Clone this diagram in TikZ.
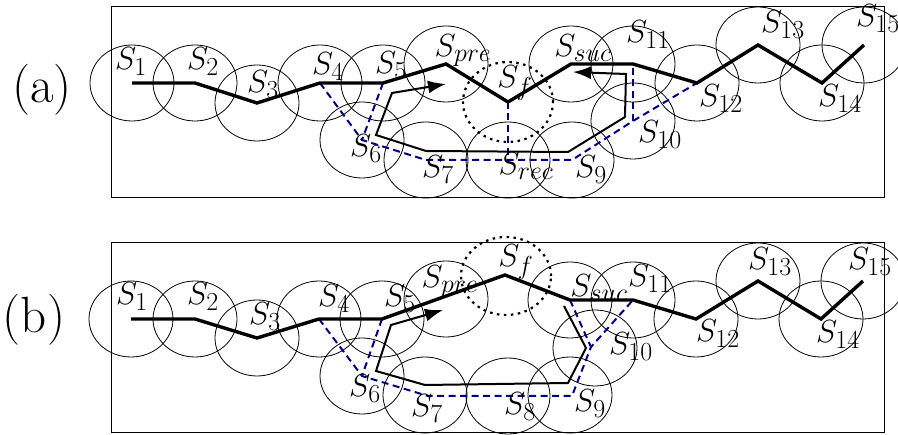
\RequirePackage{fix-cm}
\documentclass[tikz,border=0pt]{standalone}
\usepackage{amssymb}
\usetikzlibrary{arrows.meta, calc}
\definecolor{navy}{RGB}{0,0,135}
\DeclareMathSizes{32}{32}{26}{20}

\begin{document}
\begin{tikzpicture}[x=1pt, y=-1pt,
  zone/.style={line width=0.8pt},
  failzone/.style={line width=2.2pt, dash pattern=on 2.5pt off 4.5pt},
  mainpath/.style={line width=3.4pt, line join=miter},
  altpath/.style={navy, line width=2pt, dash pattern=on 7pt off 4.5pt},
  bypass/.style={line width=2pt, line join=miter, arrows={-Latex[length=18pt, width=13pt]}},
  lab/.style={anchor=base, inner sep=0pt, font=\fontsize{32}{38}\selectfont},
  tag/.style={anchor=base, inner sep=0pt, font=\fontsize{51}{60}\selectfont}]
\useasboundingbox (0,0) rectangle (898,435);

\draw[line width=1pt] (111,7) rectangle (884,198);
\draw[line width=1pt] (111,243) rectangle (884,433);
\node[tag] (taga) at (42,103) {(a)};
\node[tag] (tagb) at (34,333) {(b)};

\coordinate (a1) at (132,83);
\coordinate (a2) at (195,83);
\coordinate (a3) at (257,103);
\coordinate (a4) at (320,83);
\coordinate (a5) at (383,83);
\coordinate (apre) at (446,64);
\coordinate (af) at (508,102);
\coordinate (asuc) at (571,64);
\coordinate (a11) at (633,64);
\coordinate (a12) at (697,83);
\coordinate (a13) at (758,45);
\coordinate (a14) at (822,83);
\coordinate (a15) at (864,45);
\coordinate (a6) at (362,140);
\coordinate (a7) at (426,160);
\coordinate (arec) at (508,160);
\coordinate (a9) at (572,160);
\coordinate (a10) at (633,121);

\draw[zone] (a1) ellipse [x radius=42pt, y radius=38pt];
\draw[zone] (a2) ellipse [x radius=42pt, y radius=38pt];
\draw[zone] (a3) ellipse [x radius=42pt, y radius=38pt];
\draw[zone] (a4) ellipse [x radius=42pt, y radius=38pt];
\draw[zone] (a5) ellipse [x radius=42pt, y radius=38pt];
\draw[zone] (apre) ellipse [x radius=42pt, y radius=38pt];
\draw[zone] (asuc) ellipse [x radius=42pt, y radius=38pt];
\draw[zone] (a11) ellipse [x radius=42pt, y radius=38pt];
\draw[zone] (a12) ellipse [x radius=42pt, y radius=38pt];
\draw[zone] (a13) ellipse [x radius=42pt, y radius=38pt];
\draw[zone] (a14) ellipse [x radius=42pt, y radius=38pt];
\draw[zone] (a15) ellipse [x radius=42pt, y radius=38pt];
\draw[zone] (a6) ellipse [x radius=42pt, y radius=38pt];
\draw[zone] (a7) ellipse [x radius=42pt, y radius=38pt];
\draw[zone] (arec) ellipse [x radius=42pt, y radius=38pt];
\draw[zone] (a9) ellipse [x radius=42pt, y radius=38pt];
\draw[zone] (a10) ellipse [x radius=42pt, y radius=38pt];
\draw[failzone] (af) ellipse [x radius=45pt, y radius=40pt];

\draw[altpath] (a4) -- (a6) -- (a7) -- (arec) -- (a9) -- (a10) -- (a12);
\draw[altpath] (a5) -- (a6);
\draw[altpath] (a10) -- (a11);
\draw[altpath] (af) -- (arec);
\draw[mainpath] (a1) -- (a2) -- (a3) -- (a4) -- (a5) -- (apre) -- (af) -- (asuc) -- (a11) -- (a12) -- (a13) -- (a14) -- (a15);

\coordinate (ta1) at (446,84);
\coordinate (ta2) at (392,93);
\coordinate (ta3) at (376,135);
\coordinate (ta4) at (426,151);
\coordinate (ta5) at (568,152);
\coordinate (ta6) at (625,117);
\coordinate (ta7) at (626,74);
\coordinate (ta8) at (573,72);
\draw[bypass, arrows={Latex[length=18pt, width=13pt]-Latex[length=18pt, width=13pt]}] (ta1) -- (ta2) -- (ta3) -- (ta4) -- (ta5) -- (ta6) -- (ta7) -- (ta8);

\node[lab] (la1) at (131,70) {$S_1$};
\node[lab] (la2) at (203,70) {$S_2$};
\node[lab] (la3) at (263,93) {$S_3$};
\node[lab] (la4) at (328,75) {$S_4$};
\node[lab] (la5) at (391,74) {$S_5$};
\node[lab] (lapre) at (463,57) {$S_{pre}$};
\node[lab] (laf) at (515,88) {$S_f$};
\node[lab] (lasuc) at (583,57) {$S_{suc}$};
\node[lab] (la11) at (648,43) {$S_{11}$};
\node[lab] (la12) at (721,107) {$S_{12}$};
\node[lab] (la13) at (783,33) {$S_{13}$};
\node[lab] (la14) at (840,107) {$S_{14}$};
\node[lab] (la15) at (878,27) {$S_{15}$};
\node[lab] (la6) at (366,157) {$S_6$};
\node[lab] (la7) at (438,178) {$S_7$};
\node[lab] (larec) at (526,175) {$S_{rec}$};
\node[lab] (la9) at (591,178) {$S_9$};
\node[lab] (la10) at (660,143) {$S_{10}$};

\coordinate (b1) at (131,319);
\coordinate (b2) at (195,319);
\coordinate (b3) at (257,338);
\coordinate (b4) at (319,319);
\coordinate (b5) at (382,319);
\coordinate (bpre) at (446,299);
\coordinate (bf) at (505,275);
\coordinate (bsuc) at (570,300);
\coordinate (b11) at (633,300);
\coordinate (b12) at (696,319);
\coordinate (b13) at (758,281);
\coordinate (b14) at (821,319);
\coordinate (b15) at (863,281);
\coordinate (b6) at (362,376);
\coordinate (b7) at (428,396);
\coordinate (b8) at (508,396);
\coordinate (b9) at (572,396);
\coordinate (b10) at (591,347);

\draw[zone] (b1) ellipse [x radius=42pt, y radius=38pt];
\draw[zone] (b2) ellipse [x radius=42pt, y radius=38pt];
\draw[zone] (b3) ellipse [x radius=42pt, y radius=38pt];
\draw[zone] (b4) ellipse [x radius=42pt, y radius=38pt];
\draw[zone] (b5) ellipse [x radius=42pt, y radius=38pt];
\draw[zone] (bpre) ellipse [x radius=42pt, y radius=38pt];
\draw[zone] (bsuc) ellipse [x radius=42pt, y radius=38pt];
\draw[zone] (b11) ellipse [x radius=42pt, y radius=38pt];
\draw[zone] (b12) ellipse [x radius=42pt, y radius=38pt];
\draw[zone] (b13) ellipse [x radius=42pt, y radius=38pt];
\draw[zone] (b14) ellipse [x radius=42pt, y radius=38pt];
\draw[zone] (b15) ellipse [x radius=42pt, y radius=38pt];
\draw[zone] (b6) ellipse [x radius=42pt, y radius=38pt];
\draw[zone] ($(b7)+(-3,-1)$) ellipse [x radius=42pt, y radius=38pt];
\draw[zone] (b8) ellipse [x radius=42pt, y radius=38pt];
\draw[zone] ($(b9)+(-2,-1)$) ellipse [x radius=42pt, y radius=38pt];
\draw[zone] ($(b10)+(4,1)$) ellipse [x radius=42pt, y radius=38pt];
\draw[failzone] ($(bf)+(1,1)$) ellipse [x radius=45pt, y radius=39pt];

\draw[altpath] (b4) -- (b6) -- (b7) -- (b8) -- (b9) -- (b10) -- (b11);
\draw[altpath] (b5) -- (b6);
\draw[altpath] (bsuc) -- (b10);
\draw[mainpath] (b1) -- (b2) -- (b3) -- (b4) -- (b5) -- (bf) -- (bsuc) -- (b11) -- (b12) -- (b13) -- (b14) -- (b15);

\coordinate (tb1) at (564,306);
\coordinate (tb2) at (586,348);
\coordinate (tb3) at (568,383);
\coordinate (tb4) at (425,385);
\coordinate (tb5) at (376,371);
\coordinate (tb6) at (391,325);
\coordinate (tb7) at (443,310);
\draw[bypass] (tb1) -- (tb2) -- (tb3) -- (tb4) -- (tb5) -- (tb6) -- (tb7);

\node[lab] (lb1) at (132,305) {$S_1$};
\node[lab] (lb2) at (203,305) {$S_2$};
\node[lab] (lb3) at (265,325) {$S_3$};
\node[lab] (lb4) at (334,307) {$S_4$};
\node[lab] (lb5) at (400,307) {$S_5$};
\node[lab] (lbpre) at (450,288) {$S_{pre}$};
\node[lab] (lbf) at (516,267) {$S_f$};
\node[lab] (lbsuc) at (599,297) {$S_{suc}$};
\node[lab] (lb11) at (650,287) {$S_{11}$};
\node[lab] (lb10) at (631,355) {$S_{10}$};
\node[lab] (lb12) at (718,342) {$S_{12}$};
\node[lab] (lb13) at (770,270) {$S_{13}$};
\node[lab] (lb14) at (838,343) {$S_{14}$};
\node[lab] (lb15) at (870,270) {$S_{15}$};
\node[lab] (lb9) at (590,412) {$S_9$};
\node[lab] (lb8) at (520,415) {$S_8$};
\node[lab] (lb7) at (427,417) {$S_7$};
\node[lab] (lb6) at (365,397) {$S_6$};
\end{tikzpicture}
\end{document}
